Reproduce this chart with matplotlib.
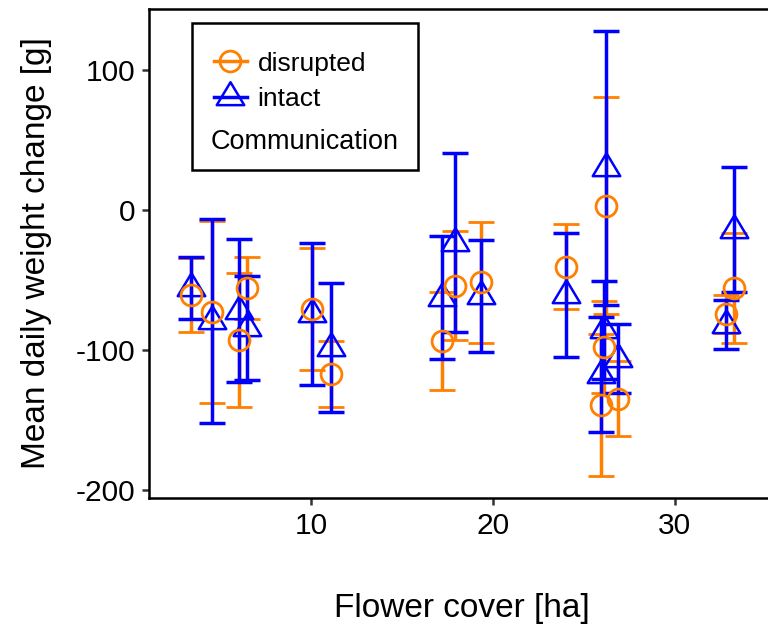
import numpy as np
import matplotlib
matplotlib.use("Agg")
import matplotlib.pyplot as plt
from matplotlib.lines import Line2D
from matplotlib.path import Path
from matplotlib.patches import Rectangle

plt.rcParams['font.family'] = ['Liberation Sans', 'DejaVu Sans']
plt.rcParams['axes.unicode_minus'] = False

# flower cover [ha] per site
cover = [3.39, 4.58, 6.04, 6.47, 10.07, 11.1, 17.2, 17.9, 19.34, 24.0,
         26.2, 25.95, 26.1, 26.85, 33.24, 32.8]

# disrupted communication: mean and error
dis_mean = [-61, -72.8, -92.8, -55.8, -71, -117.3, -93.7, -54.1, -51.6, -40.6,
            3, -139.7, -98, -134.9, -55.9, -74.4]
dis_err = [26.3, 65.1, 48, 22.2, 43.5, 23.5, 35.2, 39, 43.2, 30.5,
           77.5, 50.7, 32.7, 26.8, 39.1, 13.5]

# intact communication: mean and error
int_mean = [-56, -79.4, -72, -84.5, -74.4, -98.4, -62.7, -23.3, -61.7, -60.9,
            30, -117.9, -86, -106.4, -14, -82]
int_err = [22, 72.9, 51, 37.2, 50.9, 45.9, 44.2, 63.8, 40.2, 44.6,
           98, 41, 35, 24.8, 45, 17.7]

orange = '#FF7F00'
blue = '#0000FF'

# open triangle centred on its centroid
tri = Path([(0, 15.0), (-13.5, -7.5), (13.5, -7.5), (0, 15.0)],
           [Path.MOVETO, Path.LINETO, Path.LINETO, Path.CLOSEPOLY])

fig = plt.figure(figsize=(7.68, 6.28), dpi=100)
ax = fig.add_axes([149/768, 130/628, (775-149)/768, 489/628])

ax.errorbar(cover, dis_mean, yerr=dis_err, fmt='o', color=orange, mfc='none',
            mec=orange, ms=15, mew=2.0, elinewidth=2.5, capsize=9.5, capthick=2.5)
ax.errorbar(cover, int_mean, yerr=int_err, fmt='none', ecolor=blue,
            elinewidth=2.5, capsize=9.5, capthick=2.5)
ax.plot(cover, int_mean, linestyle='none', marker=tri, ms=22, mfc='none',
        mec=blue, mew=1.8)

ax.set_xlim(1.1, 35.5)
ax.set_ylim(-206, 143.7)
ax.set_xticks([10, 20, 30])
ax.set_yticks([-200, -100, 0, 100])
ax.tick_params(direction='out', length=5, width=1.8, color='#333333',
               labelsize=21.5, pad=5, labelcolor='black')
for s in ['left', 'bottom', 'top']:
    ax.spines[s].set_linewidth(1.8)
    ax.spines[s].set_color('black')
ax.spines['right'].set_visible(False)

ax.set_xlabel('Flower cover [ha]', fontsize=24, labelpad=38)
ax.set_ylabel('Mean daily weight change [g]', fontsize=24, labelpad=17)

handles = [
    Line2D([], [], color=orange, marker='o', mfc='none', mec=orange, ms=15,
           mew=2.0, lw=2.5),
    Line2D([], [], color=blue, marker=tri, mfc='none', mec=blue, ms=22,
           mew=1.8, lw=2.5),
]
leg = fig.legend(handles, ['disrupted', 'intact'], loc='center left',
                 bbox_to_anchor=(214/768, (628-81.5)/628), frameon=False,
                 fontsize=19, handlelength=1.25, handletextpad=0.4,
                 labelspacing=0.45, borderpad=0, borderaxespad=0)
fig.text(211/768, (628-142)/628, 'Communication', fontsize=19.5,
         ha='left', va='center')
fig.patches.append(Rectangle((192/768, (628-170)/628), 226/768, 147/628,
                             transform=fig.transFigure, fill=False,
                             edgecolor='black', lw=1.8))

fig.savefig('out.png', dpi=100)
